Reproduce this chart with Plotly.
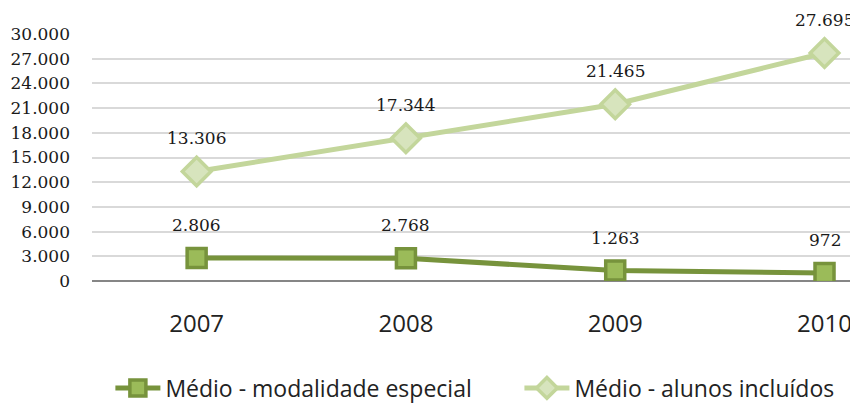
import plotly.graph_objects as go

years = ["2007", "2008", "2009", "2010"]
especial = [2806, 2768, 1263, 972]
incluidos = [13306, 17344, 21465, 27695]
y_ticks = list(range(0, 30001, 3000))

def fmt(v):
    return f"{v:,}".replace(",", ".")

fig = go.Figure()
fig.add_trace(go.Scatter(
    x=years, y=especial, name="Médio - modalidade especial", mode="lines+markers",
    line=dict(color="#77933C", width=5),
    marker=dict(symbol="square", size=19, color="#9BBB59", line=dict(color="#77933C", width=3.5)),
    legend="legend",
))
fig.add_trace(go.Scatter(
    x=years, y=incluidos, name="Médio - alunos incluídos", mode="lines+markers",
    line=dict(color="#C3D69B", width=5),
    marker=dict(symbol="diamond", size=22, color="#D7E4BD", line=dict(color="#C3D69B", width=3.5)),
    legend="legend2",
))

label_font = dict(family="DejaVu Serif", size=17, color="#1a1a1a")
annots = []
for series in (especial, incluidos):
    for i, v in enumerate(series):
        annots.append(dict(x=i, y=v, xref="x", yref="y", text=fmt(v), showarrow=False,
                           yshift=33, font=label_font))

legend_font = dict(family="Open Sans", size=23, color="#222")
fig.update_layout(
    width=858, height=403,
    margin=dict(l=84, r=8, t=26, b=130, autoexpand=False),
    paper_bgcolor="white", plot_bgcolor="white",
    separators=",.",
    annotations=annots,
    showlegend=True,
    legend=dict(orientation="h", x=0.024, y=-0.433, xanchor="left", yanchor="middle",
                itemwidth=45, font=legend_font, bgcolor="rgba(0,0,0,0)"),
    legend2=dict(orientation="h", x=0.558, y=-0.433, xanchor="left", yanchor="middle",
                 itemwidth=45, font=legend_font, bgcolor="rgba(0,0,0,0)"),
)
fig.update_xaxes(type="category", range=[-0.5, 3.16], showgrid=False, showline=False,
                 ticks="", ticklabelstandoff=26, automargin=False,
                 tickfont=dict(family="Open Sans", size=24, color="#222"))
fig.update_yaxes(range=[0, 30000], tickvals=y_ticks, tickformat=",d",
                 showgrid=True, gridcolor="#D9D9D9", gridwidth=1.5,
                 zeroline=True, zerolinecolor="#868686", zerolinewidth=1.5,
                 showline=False, ticks="", ticklabelstandoff=21, automargin=False,
                 tickfont=label_font)

fig.write_html("out.html")
